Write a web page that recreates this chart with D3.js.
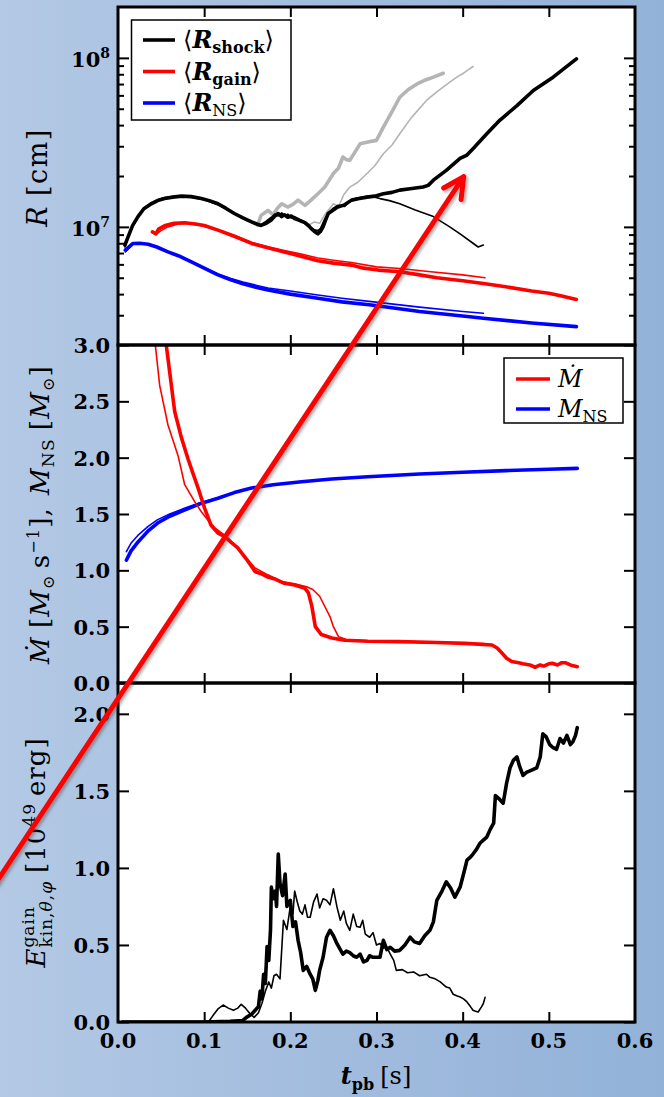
<!DOCTYPE html>
<html>
<head>
<meta charset="utf-8">
<script src="https://cdn.jsdelivr.net/npm/d3@7"></script>
<style>
  html, body { margin: 0; padding: 0; }
  svg { display: block; }
</style>
</head>
<body>
<svg id="fig" width="664" height="1097"></svg>
<script>
// ---------------------------------------------------------------------------
// Data: [t_pb in s, value]. Model A = long run (thick), model B = short run (thin).
// Radii are given in units of 10^6 cm.
// ---------------------------------------------------------------------------
const R_UNIT = 1e6;

const shockA = [[0.008,7.8],[0.0116,8.7],[0.017,10.2],[0.0232,11.5],[0.03,12.8],[0.0387,13.7],[0.046,14.3],[0.054,14.7],[0.0635,15.0],[0.0735,15.2],[0.085,15.1],[0.0967,14.7],[0.106,14.3],[0.116,13.7],[0.125,12.9],[0.135,12.0],[0.145,11.3],[0.155,10.7],[0.161,10.4],[0.166,10.2],[0.172,10.5],[0.178,11.0],[0.182,11.6],[0.186,12.0],[0.19,11.5],[0.193,11.8],[0.197,11.4],[0.201,11.6],[0.205,11.2],[0.209,11.0],[0.213,10.8],[0.217,10.6],[0.221,10.2],[0.224,9.8],[0.228,9.4],[0.232,9.1],[0.235,9.4],[0.238,10.0],[0.241,11.0],[0.244,12.0],[0.249,12.5],[0.255,13.1],[0.263,13.5],[0.271,14.4],[0.28,14.7],[0.289,15.0],[0.298,15.2],[0.308,15.7],[0.318,16.0],[0.327,16.5],[0.339,16.8],[0.354,17.2],[0.36,17.6],[0.366,18.9],[0.381,21.6],[0.397,25.4],[0.405,26.6],[0.412,29.0],[0.428,35.6],[0.443,42.7],[0.463,52.2],[0.482,64.1],[0.505,76.9],[0.532,98.6]];

const shockB = [[0.008,7.6],[0.0116,8.6],[0.017,10.0],[0.0232,11.4],[0.03,12.9],[0.0387,13.9],[0.046,14.5],[0.054,14.9],[0.0635,15.1],[0.0735,15.2],[0.085,15.0],[0.0967,14.6],[0.106,14.1],[0.116,13.5],[0.125,12.8],[0.135,12.0],[0.145,11.2],[0.155,10.6],[0.161,10.3],[0.166,10.3],[0.172,10.8],[0.178,11.4],[0.182,11.9],[0.186,11.6],[0.19,12.1],[0.193,11.6],[0.197,11.9],[0.201,11.3],[0.205,11.5],[0.209,11.2],[0.213,10.9],[0.217,10.4],[0.221,10.0],[0.224,9.9],[0.228,9.6],[0.232,9.5],[0.235,9.8],[0.238,10.6],[0.241,11.4],[0.244,11.9],[0.249,12.8],[0.255,13.4],[0.263,13.2],[0.268,14.0],[0.275,14.7],[0.283,15.0],[0.291,15.2],[0.298,15.0],[0.304,14.7],[0.315,14.3],[0.327,13.7],[0.345,12.6],[0.366,11.5],[0.385,10.0],[0.397,9.1],[0.412,8.0],[0.418,7.6],[0.421,7.7],[0.424,7.8]];

// comparison runs (grey)
const shockC = [[0.162,10.2],[0.166,11.7],[0.174,12.5],[0.18,11.8],[0.185,12.9],[0.19,13.7],[0.197,13.1],[0.203,13.6],[0.209,14.4],[0.217,13.4],[0.224,14.4],[0.232,15.7],[0.24,17.2],[0.25,20.7],[0.256,22.3],[0.261,25.9],[0.265,25.0],[0.269,24.8],[0.275,27.7],[0.281,31.0],[0.29,31.8],[0.3,32.5],[0.308,38.9],[0.318,48.0],[0.327,58.5],[0.337,65.0],[0.347,70.1],[0.357,74.0],[0.366,76.9],[0.3775,81.1]];

const shockD = [[0.222,10.3],[0.228,10.7],[0.234,10.5],[0.24,11.8],[0.25,13.7],[0.256,13.2],[0.262,15.5],[0.269,17.2],[0.278,18.3],[0.289,20.7],[0.298,23.0],[0.308,27.1],[0.318,30.5],[0.327,35.6],[0.34,44.0],[0.358,56.0],[0.37,63.0],[0.385,71.8],[0.395,78.0],[0.4,80.5],[0.405,84.0],[0.412,88.9]];

const gainA = [[0.040,9.33],[0.044,9.1],[0.047,9.7],[0.055,10.2],[0.065,10.5],[0.0774,10.57],[0.09,10.4],[0.1,10.2],[0.116,9.57],[0.135,8.8],[0.155,7.98],[0.175,7.5],[0.193,7.11],[0.21,6.75],[0.232,6.3],[0.25,6.1],[0.271,5.94],[0.285,5.7],[0.302,5.55],[0.327,5.42],[0.35,5.2],[0.37,5.0],[0.4,4.8],[0.424,4.62],[0.45,4.42],[0.48,4.17],[0.5,4.05],[0.515,3.9],[0.532,3.72]];

const gainB = [[0.045,9.1],[0.05,9.5],[0.058,10.0],[0.07,10.4],[0.08,10.5],[0.1,10.1],[0.116,9.6],[0.135,8.9],[0.155,8.1],[0.175,7.6],[0.193,7.25],[0.21,6.95],[0.232,6.55],[0.25,6.35],[0.271,6.15],[0.3,5.8],[0.327,5.67],[0.36,5.45],[0.4,5.2],[0.426,5.0]];

const nsA = [[0.0085,7.28],[0.0174,7.98],[0.025,8.0],[0.035,7.9],[0.045,7.6],[0.058,7.11],[0.07,6.75],[0.087,6.15],[0.1,5.7],[0.116,5.2],[0.13,4.88],[0.145,4.6],[0.16,4.4],[0.174,4.23],[0.2,4.0],[0.232,3.78],[0.26,3.6],[0.294,3.45],[0.35,3.16],[0.4,2.97],[0.424,2.88],[0.48,2.7],[0.532,2.57]];

const nsB = [[0.0085,7.1],[0.0174,7.9],[0.025,8.0],[0.035,7.9],[0.045,7.6],[0.058,7.11],[0.07,6.75],[0.087,6.17],[0.1,5.74],[0.116,5.27],[0.13,4.97],[0.145,4.72],[0.16,4.52],[0.174,4.35],[0.2,4.17],[0.232,3.95],[0.26,3.78],[0.294,3.61],[0.35,3.35],[0.4,3.16],[0.424,3.08]];

// mass accretion rate [M_sun/s]
const mdotA = [[0.053,3.15],[0.056,3.0],[0.0658,2.41],[0.0735,2.18],[0.0812,1.99],[0.087,1.86],[0.093,1.73],[0.1006,1.55],[0.108,1.4],[0.116,1.33],[0.124,1.3],[0.131,1.25],[0.139,1.2],[0.149,1.1],[0.159,0.99],[0.166,0.97],[0.174,0.94],[0.183,0.92],[0.193,0.885],[0.205,0.87],[0.217,0.84],[0.221,0.8],[0.225,0.68],[0.229,0.5],[0.236,0.43],[0.248,0.4],[0.263,0.38],[0.29,0.37],[0.326,0.367],[0.37,0.36],[0.403,0.352],[0.434,0.337],[0.44,0.31],[0.445,0.27],[0.451,0.22],[0.457,0.19],[0.465,0.18],[0.47,0.17],[0.478,0.16],[0.484,0.14],[0.49,0.16],[0.494,0.15],[0.5,0.17],[0.504,0.175],[0.51,0.16],[0.515,0.18],[0.519,0.18],[0.525,0.16],[0.533,0.145]];

const mdotB = [[0.041,3.2],[0.0433,3.0],[0.0484,2.64],[0.058,2.29],[0.0696,2.02],[0.0774,1.76],[0.089,1.61],[0.0967,1.52],[0.104,1.45],[0.112,1.38],[0.124,1.31],[0.131,1.26],[0.139,1.2],[0.149,1.11],[0.159,1.02],[0.174,0.96],[0.19,0.9],[0.205,0.88],[0.219,0.855],[0.226,0.83],[0.234,0.77],[0.246,0.59],[0.25,0.5],[0.256,0.41],[0.265,0.385],[0.3,0.37],[0.35,0.365],[0.4,0.355],[0.425,0.35]];

// neutron star mass [M_sun]
const mnsA = [[0.0097,1.09],[0.015,1.17],[0.023,1.25],[0.035,1.35],[0.046,1.42],[0.06,1.48],[0.077,1.535],[0.095,1.59],[0.116,1.64],[0.135,1.69],[0.155,1.73],[0.18,1.76],[0.213,1.787],[0.248,1.81],[0.29,1.83],[0.35,1.855],[0.4,1.87],[0.45,1.885],[0.5,1.897],[0.533,1.905]];

const mnsB = [[0.0097,1.165],[0.015,1.24],[0.023,1.31],[0.035,1.39],[0.046,1.45],[0.06,1.5],[0.077,1.55],[0.095,1.6],[0.116,1.645],[0.135,1.69],[0.155,1.73],[0.18,1.76],[0.213,1.787],[0.248,1.81],[0.29,1.83],[0.35,1.855],[0.4,1.87],[0.425,1.875]];

// non-radial kinetic energy in the gain layer [10^49 erg]
const ekinA = [[0.005,0],[0.1,0],[0.13,0.005],[0.145,0.01],[0.149,0.03],[0.155,0.05],[0.159,0.075],[0.163,0.1],[0.165,0.2],[0.167,0.15],[0.169,0.31],[0.171,0.25],[0.173,0.49],[0.175,0.4],[0.177,0.6],[0.178,0.875],[0.18,0.8],[0.1826,0.85],[0.184,0.75],[0.186,1.09],[0.188,0.9],[0.191,0.82],[0.194,0.96],[0.196,0.75],[0.2,0.79],[0.203,0.62],[0.206,0.65],[0.209,0.53],[0.212,0.45],[0.215,0.335],[0.219,0.36],[0.223,0.31],[0.226,0.28],[0.229,0.205],[0.232,0.27],[0.234,0.335],[0.238,0.42],[0.242,0.55],[0.246,0.595],[0.25,0.56],[0.254,0.51],[0.258,0.47],[0.261,0.44],[0.265,0.46],[0.269,0.45],[0.273,0.43],[0.277,0.42],[0.281,0.44],[0.285,0.39],[0.289,0.4],[0.292,0.43],[0.296,0.42],[0.3,0.42],[0.304,0.42],[0.308,0.53],[0.312,0.47],[0.316,0.485],[0.321,0.46],[0.327,0.465],[0.333,0.5],[0.339,0.55],[0.344,0.52],[0.35,0.51],[0.356,0.56],[0.362,0.595],[0.366,0.65],[0.37,0.79],[0.376,0.85],[0.381,0.91],[0.386,0.87],[0.391,0.81],[0.397,0.875],[0.401,0.96],[0.405,1.05],[0.409,1.07],[0.412,1.09],[0.416,1.12],[0.42,1.16],[0.424,1.18],[0.428,1.2],[0.432,1.25],[0.436,1.29],[0.438,1.47],[0.442,1.45],[0.447,1.42],[0.451,1.55],[0.455,1.65],[0.459,1.7],[0.463,1.72],[0.466,1.66],[0.47,1.6],[0.474,1.62],[0.478,1.63],[0.482,1.64],[0.486,1.65],[0.49,1.72],[0.493,1.87],[0.497,1.85],[0.501,1.8],[0.505,1.78],[0.509,1.77],[0.513,1.84],[0.517,1.81],[0.521,1.86],[0.525,1.8],[0.528,1.82],[0.531,1.86],[0.533,1.91]];

const ekinB = [[0.005,0],[0.1,0],[0.105,0],[0.11,0.04],[0.116,0.085],[0.122,0.11],[0.128,0.09],[0.134,0.076],[0.139,0.09],[0.143,0.115],[0.148,0.09],[0.153,0.055],[0.158,0.03],[0.163,0.06],[0.167,0.12],[0.171,0.2],[0.175,0.26],[0.178,0.22],[0.181,0.3],[0.184,0.31],[0.188,0.28],[0.192,0.66],[0.196,0.6],[0.2,0.75],[0.203,0.7],[0.205,0.85],[0.208,0.78],[0.211,0.72],[0.214,0.7],[0.217,0.76],[0.22,0.68],[0.223,0.68],[0.227,0.78],[0.231,0.83],[0.234,0.74],[0.238,0.8],[0.242,0.79],[0.246,0.76],[0.25,0.865],[0.254,0.75],[0.258,0.66],[0.262,0.72],[0.265,0.64],[0.269,0.595],[0.273,0.7],[0.277,0.62],[0.281,0.615],[0.284,0.66],[0.287,0.57],[0.292,0.55],[0.296,0.58],[0.3,0.5],[0.304,0.51],[0.308,0.48],[0.312,0.485],[0.316,0.44],[0.32,0.4],[0.323,0.335],[0.33,0.34],[0.336,0.32],[0.343,0.325],[0.35,0.3],[0.358,0.31],[0.362,0.29],[0.368,0.28],[0.374,0.26],[0.381,0.227],[0.385,0.22],[0.389,0.18],[0.393,0.17],[0.397,0.162],[0.401,0.15],[0.405,0.13],[0.409,0.1],[0.412,0.076],[0.415,0.07],[0.418,0.065],[0.422,0.1],[0.424,0.12],[0.426,0.16]];

// axis ticks
const tTicks = [0, 0.1, 0.2, 0.3, 0.4, 0.5, 0.6];
const rMajor = [1e7, 1e8];
const rMinor = [3e6, 4e6, 5e6, 6e6, 7e6, 8e6, 9e6, 2e7, 3e7, 4e7, 5e7, 6e7, 7e7, 8e7, 9e7];
const rMajorExp = ['7', '8'];
const mTicks = [0, 0.5, 1.0, 1.5, 2.0, 2.5, 3.0];
const eTicks = [0, 0.5, 1.0, 1.5, 2.0];

// ---------------------------------------------------------------------------
// Layout
// ---------------------------------------------------------------------------
const FONT = "'DejaVu Serif', 'Liberation Serif', serif";
const W = 664, H = 1097;
const L = 118, R = 635;
const P1 = [7, 345], P2 = [345, 683], P3 = [683, 1022];
const RED = '#ff0000', BLUE = '#0000ff', GREY = '#b4b4b4';
const THICK = 3.6, THIN = 1.6;

const x  = d3.scaleLinear().domain([0, 0.6]).range([L, R]);
const yR = d3.scaleLog().domain([2e6, 2e8]).range([P1[1], P1[0]]);
const yM = d3.scaleLinear().domain([0, 3]).range([P2[1], P2[0]]);
const yE = d3.scaleLinear().domain([0, 2.2]).range([P3[1], P3[0]]);

const svg = d3.select('#fig');
const defs = svg.append('defs');

// page background: soft horizontal blue gradient
const grad = defs.append('linearGradient').attr('id', 'bg').attr('x1', 0).attr('x2', 1).attr('y1', 0).attr('y2', 0);
grad.append('stop').attr('offset', '0%').attr('stop-color', '#b3c9e5');
grad.append('stop').attr('offset', '50%').attr('stop-color', '#a2bcde');
grad.append('stop').attr('offset', '100%').attr('stop-color', '#92b2d8');
svg.append('rect').attr('width', W).attr('height', H).attr('fill', 'url(#bg)');

const shadow = defs.append('filter').attr('id', 'shadow').attr('x', '-10%').attr('y', '-10%').attr('width', '120%').attr('height', '120%');
shadow.append('feDropShadow').attr('dx', 2).attr('dy', 2).attr('stdDeviation', 1.6)
  .attr('flood-color', '#444').attr('flood-opacity', 0.45);

const panels = [
  { id: 'p1', top: P1[0], bot: P1[1], y: yR },
  { id: 'p2', top: P2[0], bot: P2[1], y: yM },
  { id: 'p3', top: P3[0], bot: P3[1], y: yE },
];

panels.forEach(p => {
  defs.append('clipPath').attr('id', 'clip-' + p.id)
    .append('rect').attr('x', L).attr('y', p.top).attr('width', R - L).attr('height', p.bot - p.top);
  svg.append('rect').attr('x', L).attr('y', p.top).attr('width', R - L).attr('height', p.bot - p.top)
    .attr('fill', '#fff');
  p.g = svg.append('g').attr('clip-path', `url(#clip-${p.id})`)
    .attr('fill', 'none').attr('stroke-linejoin', 'round').attr('stroke-linecap', 'round');
});

function series(p, data, color, width, unit = 1) {
  const line = d3.line().x(d => x(d[0])).y(d => p.y(d[1] * unit));
  p.g.append('path').datum(data).attr('d', line)
    .attr('stroke', color).attr('stroke-width', width);
}

// radii
series(panels[0], shockC, GREY, THICK, R_UNIT);
series(panels[0], shockD, GREY, THIN, R_UNIT);
series(panels[0], nsB, BLUE, THIN, R_UNIT);
series(panels[0], nsA, BLUE, THICK, R_UNIT);
series(panels[0], gainB, RED, THIN, R_UNIT);
series(panels[0], gainA, RED, THICK, R_UNIT);
series(panels[0], shockB, '#000', THIN, R_UNIT);
series(panels[0], shockA, '#000', THICK, R_UNIT);
// accretion rate and NS mass
series(panels[1], mnsB, BLUE, THIN);
series(panels[1], mnsA, BLUE, THICK);
series(panels[1], mdotB, RED, THIN);
series(panels[1], mdotA, RED, THICK);
// kinetic energy
series(panels[2], ekinB, '#000', THIN);
series(panels[2], ekinA, '#000', THICK);

// ---------------------------------------------------------------------------
// Ticks (inward, on all four sides) and frames
// ---------------------------------------------------------------------------
function tickAxis(gen, transform, len) {
  const g = svg.append('g').attr('transform', transform).call(gen.tickSize(-len).tickFormat(''));
  g.select('.domain').remove();
  g.selectAll('.tick line').attr('stroke', '#000').attr('stroke-width', 2);
}

panels.forEach(p => {
  const inner = tTicks.slice(1, -1);
  tickAxis(d3.axisBottom(x).tickValues(inner), `translate(0,${p.bot})`, 10);
  tickAxis(d3.axisTop(x).tickValues(inner), `translate(0,${p.top})`, 10);
});
tickAxis(d3.axisLeft(yR).tickValues(rMajor), `translate(${L},0)`, 11);
tickAxis(d3.axisRight(yR).tickValues(rMajor), `translate(${R},0)`, 11);
tickAxis(d3.axisLeft(yR).tickValues(rMinor), `translate(${L},0)`, 6);
tickAxis(d3.axisRight(yR).tickValues(rMinor), `translate(${R},0)`, 6);
tickAxis(d3.axisLeft(yM).tickValues(mTicks), `translate(${L},0)`, 11);
tickAxis(d3.axisRight(yM).tickValues(mTicks), `translate(${R},0)`, 11);
tickAxis(d3.axisLeft(yE).tickValues(eTicks), `translate(${L},0)`, 11);
tickAxis(d3.axisRight(yE).tickValues(eTicks), `translate(${R},0)`, 11);

panels.forEach(p => {
  svg.append('rect').attr('x', L).attr('y', p.top).attr('width', R - L).attr('height', p.bot - p.top)
    .attr('fill', 'none').attr('stroke', '#000').attr('stroke-width', 3);
});

// ---------------------------------------------------------------------------
// Tick labels
// ---------------------------------------------------------------------------
const TICK_SIZE = 21;
const fmt1 = d3.format('.1f');

rMajor.forEach((v, i) => {
  const t = svg.append('text').attr('x', 110).attr('y', yR(v) + 9)
    .attr('text-anchor', 'end').attr('font-family', FONT).attr('font-weight', 'bold');
  t.append('tspan').attr('font-size', TICK_SIZE).text('10');
  t.append('tspan').attr('font-size', 14).attr('dy', -9).text(rMajorExp[i]);
});
mTicks.forEach(v => {
  svg.append('text').attr('x', 110).attr('y', yM(v) + 8).attr('text-anchor', 'end')
    .attr('font-family', FONT).attr('font-weight', 'bold').attr('font-size', TICK_SIZE).text(fmt1(v));
});
eTicks.forEach(v => {
  svg.append('text').attr('x', 110).attr('y', yE(v) + 8).attr('text-anchor', 'end')
    .attr('font-family', FONT).attr('font-weight', 'bold').attr('font-size', TICK_SIZE).text(fmt1(v));
});
tTicks.forEach(v => {
  svg.append('text').attr('x', x(v)).attr('y', 1048).attr('text-anchor', 'middle')
    .attr('font-family', FONT).attr('font-weight', 'bold').attr('font-size', TICK_SIZE).text(fmt1(v));
});

// ---------------------------------------------------------------------------
// Rich text helper (italic / bold pieces, sub- and superscripts)
// ---------------------------------------------------------------------------
function rich(parent, parts, size = 23, spacing = 0) {
  const text = parent.append('text').attr('font-family', FONT).attr('fill', '#000')
    .attr('letter-spacing', spacing);
  let shift = 0, prevLen = 0;
  parts.forEach(p => {
    const ts = text.append('tspan').text(p.t)
      .attr('font-size', p.s || size)
      .attr('font-style', p.i ? 'italic' : 'normal')
      .attr('font-weight', p.b ? 'bold' : 'normal');
    const sh = p.d || 0;
    if (sh !== shift) ts.attr('dy', sh - shift);
    shift = sh;
    if (p.back) ts.attr('dx', -prevLen);
    else if (p.dx) ts.attr('dx', p.dx);
    prevLen = ts.node().getComputedTextLength();
  });
  return text;
}

function centered(cx, cy, parts, rotate, size, spacing = 0) {
  const g = svg.append('g').attr('transform', `translate(${cx},${cy})` + (rotate ? ' rotate(-90)' : ''));
  const t = rich(g, parts, size, spacing);
  const bb = t.node().getBBox();
  t.attr('transform', `translate(${-(bb.x + bb.width / 2)},${-(bb.y + bb.height / 2)})`);
}

// axis titles
centered(37, 178, [{ t: 'R', i: true }, { t: '[cm]', dx: 9 }], true, 27, 1.5);
centered(41, 515, [
  { t: 'Ṁ', i: true }, { t: '[', dx: 8 }, { t: 'M', i: true }, { t: '⊙', s: 16, d: 5 },
  { t: 's', d: 0, dx: 6 }, { t: '−1', s: 16, d: -10 }, { t: '],', d: 0 }, { t: 'M', i: true, dx: 12 },
  { t: 'NS', s: 17, d: 5 }, { t: '[', d: 0, dx: 8 }, { t: 'M', i: true }, { t: '⊙', s: 16, d: 5 }, { t: ']', d: 0 }
], true, 26, 1.2);
centered(37, 853, [
  { t: 'E', i: true }, { t: 'gain', s: 17, d: -11 }, { t: 'kin,', s: 17, d: 7, back: true },
  { t: 'θ', s: 17, d: 7, i: true }, { t: ',', s: 17, d: 7 }, { t: 'φ', s: 17, d: 7, i: true },
  { t: '[10', d: 0, dx: 8 }, { t: '49', s: 17, d: -10 }, { t: 'erg]', d: 0, dx: 7 }
], true, 26, 1);
centered(376, 1077, [{ t: 't', i: true, b: true }, { t: 'pb', s: 16, d: 6, b: true }, { t: '[s]', d: 0, dx: 6 }], false, 24);

// ---------------------------------------------------------------------------
// Legends
// ---------------------------------------------------------------------------
const legendTop = [
  { name: 'shock', color: '#000' },
  { name: 'gain', color: RED },
  { name: 'NS', color: BLUE },
];
svg.append('rect').attr('x', 131.5).attr('y', 20).attr('width', 159.5).attr('height', 100)
  .attr('fill', '#fff').attr('stroke', '#000').attr('stroke-width', 1.5);
legendTop.forEach((e, k) => {
  const yy = 40 + k * 31.5;
  svg.append('line').attr('x1', 143).attr('x2', 175).attr('y1', yy).attr('y2', yy)
    .attr('stroke', e.color).attr('stroke-width', 3.6);
  rich(svg.append('g').attr('transform', `translate(183,${yy + 8})`), [
    { t: '⟨' }, { t: 'R', i: true, b: true }, { t: e.name, s: 16, d: 5, b: e.name !== 'NS' },
    { t: '⟩', d: 0 }
  ], 24);
});

const legendMid = [
  { name: 'mdot', color: RED },
  { name: 'mns', color: BLUE },
];
svg.append('rect').attr('x', 504).attr('y', 358).attr('width', 119).attr('height', 65)
  .attr('fill', '#fff').attr('stroke', '#000').attr('stroke-width', 1.5);
legendMid.forEach((e, k) => {
  const yy = 379 + k * 30;
  svg.append('line').attr('x1', 516).attr('x2', 550).attr('y1', yy).attr('y2', yy)
    .attr('stroke', e.color).attr('stroke-width', 3.6);
  const parts = e.name === 'mdot'
    ? [{ t: 'Ṁ', i: true }]
    : [{ t: 'M', i: true }, { t: 'NS', s: 16, d: 5 }];
  rich(svg.append('g').attr('transform', `translate(558,${yy + 8})`), parts, 24);
});

// ---------------------------------------------------------------------------
// Red arrow across the figure
// ---------------------------------------------------------------------------
const arrowFrom = [-4, 882.8], arrowTo = [463.7, 176.7];
const ang = Math.atan2(arrowFrom[1] - arrowTo[1], arrowFrom[0] - arrowTo[0]);
const headLen = 23, headAng = 27 * Math.PI / 180;
const h1 = [arrowTo[0] + headLen * Math.cos(ang + headAng), arrowTo[1] + headLen * Math.sin(ang + headAng)];
const h2 = [arrowTo[0] + headLen * Math.cos(ang - headAng), arrowTo[1] + headLen * Math.sin(ang - headAng)];
svg.append('path')
  .attr('d', `M${arrowFrom}L${arrowTo}M${h1}L${arrowTo}L${h2}`)
  .attr('fill', 'none').attr('stroke', RED).attr('stroke-width', 5)
  .attr('stroke-linecap', 'round').attr('stroke-linejoin', 'round')
  .attr('filter', 'url(#shadow)');
</script>
</body>
</html>
